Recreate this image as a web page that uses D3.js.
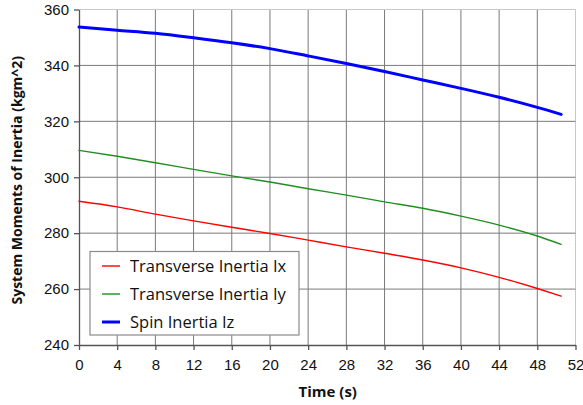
<!DOCTYPE html>
<html>
<head>
<meta charset="utf-8">
<script src="https://cdn.jsdelivr.net/npm/d3@7"></script>
<style>
  html, body { margin: 0; padding: 0; background: #fff; }
  svg { display: block; }
</style>
</head>
<body>
<svg id="chart" width="583" height="405"></svg>
<script>
// Sample times (s)
const times = [0, 4, 8, 12, 16, 20, 24, 28, 32, 36, 40, 44, 48, 50.5];
// Moments of inertia (kg m^2) at each sample time
const ixValues = [291.4, 289.4, 286.8, 284.4, 282.1, 279.9, 277.5, 275.1, 272.8, 270.4, 267.6, 264.2, 260.2, 257.5];
const iyValues = [309.6, 307.5, 305.2, 302.8, 300.5, 298.3, 295.9, 293.6, 291.2, 288.9, 286.1, 282.9, 279.0, 276.0];
const izValues = [353.7, 352.6, 351.5, 349.9, 348.1, 346.0, 343.4, 340.7, 337.8, 334.8, 331.8, 328.6, 325.0, 322.5];
const seriesNames = ["Transverse Inertia Ix", "Transverse Inertia Iy", "Spin Inertia Iz"];
const xTicks = [0, 4, 8, 12, 16, 20, 24, 28, 32, 36, 40, 44, 48, 52];
const yTicks = [240, 260, 280, 300, 320, 340, 360];

const series = [
  { name: seriesNames[0], values: ixValues, color: "#ff0000", width: 1.4 },
  { name: seriesNames[1], values: iyValues, color: "#1f8f1f", width: 1.4 },
  { name: seriesNames[2], values: izValues, color: "#0000ff", width: 3 }
];

const svg = d3.select("#chart");
const margin = { left: 79, right: 583 - 575.5, top: 9.5, bottom: 405 - 345 };
const W = 583, H = 405;

const x = d3.scaleLinear().domain([0, 52]).range([margin.left, W - margin.right]);
const y = d3.scaleLinear().domain([240, 360]).range([H - margin.bottom, margin.top]);

const grid = svg.append("g");
// vertical grid lines
grid.selectAll("line.vx").data(xTicks.slice(1)).join("line")
  .attr("x1", d => x(d)).attr("x2", d => x(d))
  .attr("y1", y(240)).attr("y2", y(360))
  .attr("stroke", d => d === 52 ? "#c8c8c8" : "#7a7a7a").attr("stroke-width", 1);
// horizontal grid lines
grid.selectAll("line.hy").data(yTicks.slice(1)).join("line")
  .attr("x1", x(0)).attr("x2", x(52))
  .attr("y1", d => y(d)).attr("y2", d => y(d))
  .attr("stroke", d => d === 360 ? "#c8c8c8" : "#7a7a7a").attr("stroke-width", 1);

// axes
const xAxis = svg.append("g")
  .attr("transform", `translate(0,${y(240)})`)
  .call(d3.axisBottom(x).tickValues(xTicks).tickSize(5).tickSizeOuter(0).tickPadding(9));
const yAxis = svg.append("g")
  .attr("transform", `translate(${x(0)},0)`)
  .call(d3.axisLeft(y).tickValues(yTicks).tickSize(5).tickSizeOuter(0).tickPadding(5));
[xAxis, yAxis].forEach(g => {
  g.select(".domain").attr("stroke", "#555").attr("stroke-width", 1.3);
  g.selectAll(".tick line").attr("stroke", "#555").attr("stroke-width", 1.3);
  g.selectAll(".tick text")
    .attr("font-family", "'Liberation Sans', Arial, sans-serif")
    .attr("font-size", 15).attr("fill", "#111");
});

// data lines
const line = d3.line()
  .x((d, i) => x(times[i]))
  .y(d => y(d))
  .curve(d3.curveMonotoneX);
svg.append("g").selectAll("path").data(series).join("path")
  .attr("d", d => line(d.values))
  .attr("fill", "none")
  .attr("stroke", d => d.color)
  .attr("stroke-width", d => d.width)
  .attr("stroke-linecap", "round");

// axis titles
const titleFont = "'Open Sans', 'Noto Sans', sans-serif";
svg.append("text")
  .attr("x", (x(0) + x(52)) / 2 + 0.5).attr("y", 397)
  .attr("text-anchor", "middle")
  .attr("font-family", titleFont).attr("font-weight", "bold")
  .attr("font-size", 15).attr("fill", "#111")
  .text("Time (s)");
svg.append("text")
  .attr("transform", `translate(22,${(y(240) + y(360)) / 2 + 3}) rotate(-90)`)
  .attr("text-anchor", "middle")
  .attr("font-family", titleFont).attr("font-weight", "bold")
  .attr("font-size", 14).attr("fill", "#111")
  .text("System Moments of Inertia (kgm^2)");

// legend
const legend = svg.append("g").attr("transform", "translate(90,251.5)");
legend.append("rect")
  .attr("width", 209).attr("height", 83.5)
  .attr("fill", "#fff").attr("stroke", "#8a8a8a").attr("stroke-width", 1.2);
const rows = legend.selectAll("g").data(series).join("g")
  .attr("transform", (d, i) => `translate(0,${14.5 + i * 28})`);
rows.append("line")
  .attr("x1", 12).attr("x2", 30).attr("y1", 0).attr("y2", 0)
  .attr("stroke", d => d.color)
  .attr("stroke-width", d => d.width);
rows.append("text")
  .attr("x", 40).attr("y", 6)
  .attr("font-family", titleFont).attr("font-size", 16.5).attr("fill", "#111")
  .text(d => d.name);
</script>
</body>
</html>
